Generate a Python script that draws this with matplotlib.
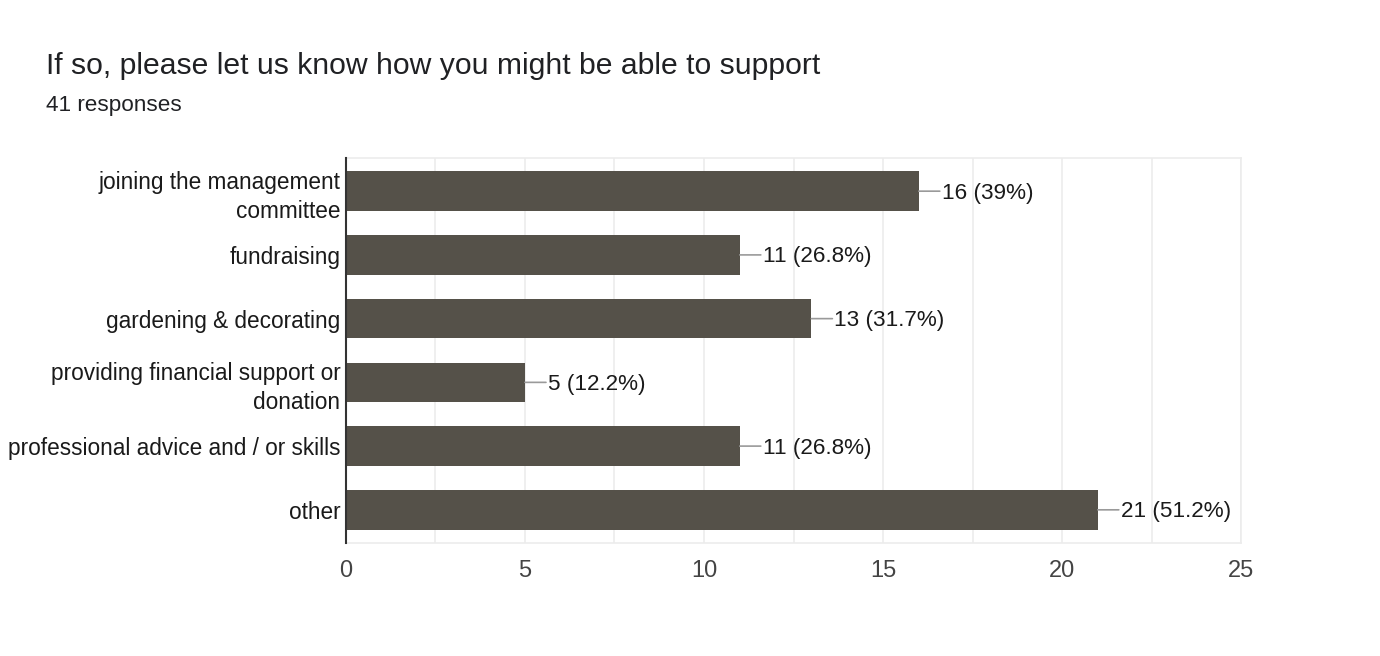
import numpy as np
import matplotlib.pyplot as plt

plt.rcParams['font.family'] = ['Liberation Sans', 'DejaVu Sans']

# answers and response counts
categories = ["joining the management\ncommittee", "fundraising", "gardening & decorating",
              "providing financial support or\ndonation", "professional advice and / or skills", "other"]
counts = [16, 11, 13, 5, 11, 21]
percents = ["39%", "26.8%", "31.7%", "12.2%", "26.8%", "51.2%"]
x_ticks = [0, 5, 10, 15, 20, 25]

fig = plt.figure(figsize=(13.8, 6.56), dpi=100)
ax = fig.add_axes([0.2507, 0.1723, 0.6486, 0.5868])

y = np.arange(len(categories))
ax.barh(y, counts, height=0.62, color='#555149', zorder=3)

for i, (c, p) in enumerate(zip(counts, percents)):
    # short grey leader line, then the label
    ax.annotate('', xy=(c, i), xytext=(21, 0), textcoords='offset pixels',
                arrowprops=dict(arrowstyle='-', color='#9a9a9a', lw=1.2, shrinkA=0, shrinkB=0))
    ax.annotate(f"{c} ({p})", xy=(c, i), xytext=(23, -2), textcoords='offset pixels',
                va='center', ha='left', fontsize=16.2, color='#1a1a1a')

ax.set_xlim(0, 25)
ax.set_ylim(len(categories) - 0.48, -0.52)
ax.set_xticks(x_ticks)
ax.set_xticks(np.arange(0, 25.1, 2.5), minor=True)
ax.set_yticks(y)
ax.set_yticklabels(categories, fontsize=16.3, color='#1a1a1a', linespacing=1.35)
ax.tick_params(axis='y', length=0, pad=4)
ax.tick_params(axis='x', length=0, pad=12, labelsize=17, labelcolor='#444444')
ax.tick_params(axis='x', which='minor', length=0)
ax.grid(axis='x', which='both', color='#ececec', lw=1.2, zorder=0)

for s in ['top', 'right', 'bottom']:
    ax.spines[s].set_color('#ececec')
    ax.spines[s].set_linewidth(1.2)
ax.spines['left'].set_color('#333333')
ax.spines['left'].set_linewidth(1.5)
ax.spines['left'].set_zorder(4)

fig.text(46 / 1380, 1 - 66 / 656, "If so, please let us know how you might be able to support",
         fontsize=21.7, color='#202124', va='center', ha='left')
fig.text(46 / 1380, 1 - 106 / 656, "41 responses", fontsize=16.2, color='#202124',
         va='center', ha='left')

fig.savefig("out.png", dpi=100)
